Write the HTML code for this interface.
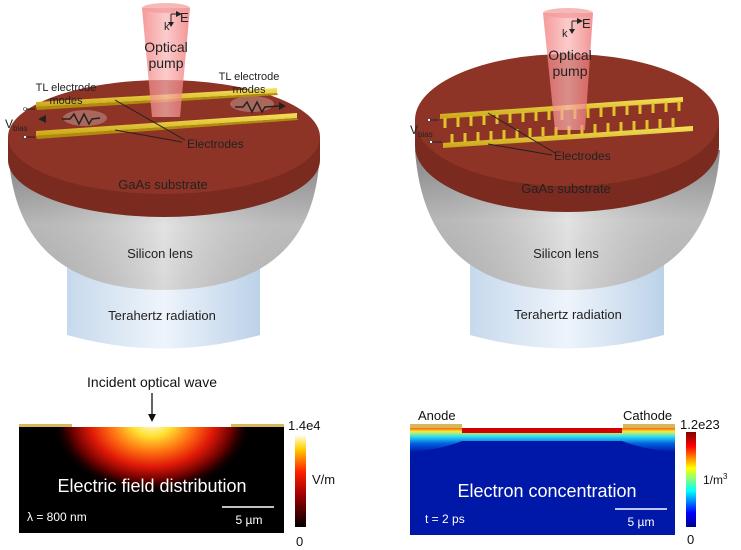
<!DOCTYPE html>
<html><head><meta charset="utf-8"><style>
html,body{margin:0;padding:0;background:#fff;}
svg{display:block;font-family:"Liberation Sans",Arial,sans-serif;}
</style></head><body>
<svg width="741" height="550" viewBox="0 0 741 550" xmlns="http://www.w3.org/2000/svg">
<defs>
<linearGradient id="lens" x1="0" y1="0" x2="0" y2="1">
<stop offset="0" stop-color="#9c9c9c"/><stop offset="0.5" stop-color="#d6d6d6"/><stop offset="1" stop-color="#c8c8c8"/></linearGradient>
<linearGradient id="lensH" x1="0" y1="0" x2="1" y2="0">
<stop offset="0" stop-color="#000" stop-opacity="0.15"/><stop offset="0.5" stop-color="#fff" stop-opacity="0.3"/><stop offset="1" stop-color="#000" stop-opacity="0.12"/></linearGradient>
<linearGradient id="thz" x1="0" y1="0" x2="1" y2="0">
<stop offset="0" stop-color="#c6d9ec"/><stop offset="0.5" stop-color="#eef4fb"/><stop offset="1" stop-color="#bcd2e8"/></linearGradient>
<linearGradient id="beam" x1="0" y1="0" x2="1" y2="0">
<stop offset="0" stop-color="#f27878" stop-opacity="0.75"/><stop offset="0.5" stop-color="#f9b5b5" stop-opacity="0.7"/><stop offset="1" stop-color="#ee7070" stop-opacity="0.75"/></linearGradient>
<linearGradient id="gold" x1="0" y1="0" x2="0" y2="1">
<stop offset="0" stop-color="#f6e25a"/><stop offset="1" stop-color="#c9a415"/></linearGradient>
<radialGradient id="field" cx="0.5" cy="0.5" r="0.5">
<stop offset="0" stop-color="#fffde8"/><stop offset="0.2" stop-color="#ffe030"/><stop offset="0.42" stop-color="#ff7010"/><stop offset="0.62" stop-color="#e01808"/><stop offset="0.82" stop-color="#600000"/><stop offset="1" stop-color="#000" stop-opacity="0"/></radialGradient>
<clipPath id="cl"><rect x="19" y="427" width="265" height="106"/></clipPath>
<linearGradient id="hot" x1="0" y1="1" x2="0" y2="0">
<stop offset="0" stop-color="#000"/><stop offset="0.35" stop-color="#a00000"/><stop offset="0.6" stop-color="#ff2000"/><stop offset="0.85" stop-color="#ffd000"/><stop offset="1" stop-color="#fffff0"/></linearGradient>
<linearGradient id="jet" x1="0" y1="1" x2="0" y2="0">
<stop offset="0" stop-color="#00008f"/><stop offset="0.15" stop-color="#0000ff"/><stop offset="0.38" stop-color="#00ffff"/><stop offset="0.5" stop-color="#80ff80"/><stop offset="0.62" stop-color="#ffff00"/><stop offset="0.85" stop-color="#ff0000"/><stop offset="1" stop-color="#800000"/></linearGradient>
<linearGradient id="conc" x1="0" y1="0" x2="0" y2="1">
<stop offset="0" stop-color="#ff6000"/><stop offset="0.15" stop-color="#f0f040"/><stop offset="0.35" stop-color="#30e0f0"/><stop offset="0.65" stop-color="#0060e0"/><stop offset="1" stop-color="#0018a8"/></linearGradient>
</defs>

<!-- LEFT 3D -->
<path d="M67 240 L67 335 Q163 362 260 335 L260 240 Z" fill="url(#thz)"/>
<path d="M9 160 Q20 290 164 290 Q308 290 319 165 Z" fill="url(#lens)"/>
<path d="M9 160 Q20 290 164 290 Q308 290 319 165 Z" fill="url(#lensH)"/>
<path d="M8 137 L8 160 A156 57 0 0 0 320 160 L320 137 Z" fill="#7a2a1e"/>
<ellipse cx="164" cy="137" rx="156" ry="57" fill="#8e3426"/>
<text x="163" y="189" font-size="13" text-anchor="middle" fill="#222">GaAs substrate</text>
<text x="160" y="258" font-size="13" text-anchor="middle" fill="#222">Silicon lens</text>
<text x="162" y="320" font-size="13" text-anchor="middle" fill="#222">Terahertz radiation</text>
<ellipse cx="85" cy="118" rx="22" ry="8" fill="#fff" opacity="0.25"/>
<ellipse cx="252" cy="104" rx="22" ry="8" fill="#fff" opacity="0.25"/>
<polygon points="36,102 277,88 277,93 36,107" fill="url(#gold)"/>
<polygon points="36,107 277,93 278,95 37,110" fill="#b08a10"/>
<polygon points="36,131 297,113 297,118 36,136" fill="url(#gold)"/>
<polygon points="36,136 297,118 298,120 37,139" fill="#b08a10"/>
<path d="M142 8 L190 8 L180 117 L152 117 Z" fill="url(#beam)"/>
<ellipse cx="166" cy="8" rx="24" ry="5" fill="#f49a9a" opacity="0.7"/>
<g stroke="#222" fill="none" stroke-width="1">
<line x1="115" y1="100" x2="185" y2="140"/>
<line x1="115" y1="130" x2="182" y2="142"/>
<line x1="26" y1="109" x2="35" y2="109"/><line x1="26" y1="137" x2="35" y2="137"/>
<path d="M62 119 L70 119 L74 114 L79 124 L84 114 L89 124 L92 119 L100 118" stroke-width="1.5"/>
<path d="M235 107 L243 107 L247 102 L252 112 L257 102 L262 112 L265 107 L280 106" stroke-width="1.5"/>
<path d="M171 14 L171 24 M171 14 L178 14"/>
</g>
<polygon points="38,119 46,115 46,123" fill="#222"/>
<polygon points="286,106 279,102 279,110" fill="#222"/>
<polygon points="182,14 176,11 176,17" fill="#222"/>
<polygon points="171,27 168,22 174,22" fill="#222"/>
<circle cx="25" cy="109" r="1.5" fill="#fff" stroke="#333" stroke-width="0.6"/>
<circle cx="25" cy="137" r="1.5" fill="#fff" stroke="#333" stroke-width="0.6"/>
<text x="164" y="30" font-size="11" fill="#222">k</text>
<text x="180" y="22" font-size="13" fill="#222">E</text>
<text x="166" y="52" font-size="14" text-anchor="middle" fill="#222">Optical</text>
<text x="166" y="68" font-size="14" text-anchor="middle" fill="#222">pump</text>
<text x="66" y="91" font-size="11" text-anchor="middle" fill="#222">TL electrode</text>
<text x="66" y="104" font-size="11" text-anchor="middle" fill="#222">modes</text>
<text x="249" y="80" font-size="11" text-anchor="middle" fill="#222">TL electrode</text>
<text x="249" y="93" font-size="11" text-anchor="middle" fill="#222">modes</text>
<text x="187" y="148" font-size="12" fill="#222">Electrodes</text>
<text x="5" y="128" font-size="12" fill="#222">V<tspan font-size="8" dy="3">bias</tspan></text>

<!-- RIGHT 3D -->
<path d="M470 235 L470 335 Q567 362 664 335 L664 235 Z" fill="url(#thz)"/>
<path d="M415 150 Q425 290 567 290 Q710 290 720 150 Z" fill="url(#lens)"/>
<path d="M415 150 Q425 290 567 290 Q710 290 720 150 Z" fill="url(#lensH)"/>
<path d="M415 120 L415 146 A152 66 0 0 0 719 146 L719 120 Z" fill="#7a2a1e"/>
<ellipse cx="567" cy="120" rx="152" ry="66" fill="#8e3426"/>
<text x="566" y="193" font-size="13" text-anchor="middle" fill="#222">GaAs substrate</text>
<text x="566" y="258" font-size="13" text-anchor="middle" fill="#222">Silicon lens</text>
<text x="568" y="319" font-size="13" text-anchor="middle" fill="#222">Terahertz radiation</text>
<g fill="url(#gold)">
<polygon points="440,114 683,97 683,102 440,119"/>
<polygon points="443,143 693,126 693,131 443,148"/>
</g>
<g stroke="#e0c22a" stroke-width="3">
<line x1="445" y1="118" x2="445" y2="128"/><line x1="458" y1="117" x2="458" y2="127"/><line x1="471" y1="116" x2="471" y2="126"/><line x1="484" y1="115" x2="484" y2="125"/><line x1="497" y1="114" x2="497" y2="124"/><line x1="510" y1="113" x2="510" y2="123"/><line x1="523" y1="112" x2="523" y2="122"/><line x1="536" y1="111" x2="536" y2="121"/><line x1="549" y1="110" x2="549" y2="120"/><line x1="562" y1="110" x2="562" y2="120"/><line x1="575" y1="109" x2="575" y2="119"/><line x1="588" y1="108" x2="588" y2="118"/><line x1="601" y1="107" x2="601" y2="117"/><line x1="614" y1="106" x2="614" y2="116"/><line x1="627" y1="105" x2="627" y2="115"/><line x1="640" y1="104" x2="640" y2="114"/><line x1="653" y1="103" x2="653" y2="113"/><line x1="666" y1="102" x2="666" y2="112"/><line x1="679" y1="101" x2="679" y2="111"/>
<line x1="452" y1="143" x2="452" y2="134"/><line x1="465" y1="142" x2="465" y2="133"/><line x1="478" y1="141" x2="478" y2="132"/><line x1="491" y1="140" x2="491" y2="131"/><line x1="504" y1="139" x2="504" y2="130"/><line x1="517" y1="138" x2="517" y2="129"/><line x1="530" y1="137" x2="530" y2="128"/><line x1="543" y1="136" x2="543" y2="127"/><line x1="556" y1="136" x2="556" y2="127"/><line x1="569" y1="135" x2="569" y2="126"/><line x1="582" y1="134" x2="582" y2="125"/><line x1="595" y1="133" x2="595" y2="124"/><line x1="608" y1="132" x2="608" y2="123"/><line x1="621" y1="131" x2="621" y2="122"/><line x1="634" y1="130" x2="634" y2="121"/><line x1="647" y1="129" x2="647" y2="120"/><line x1="660" y1="128" x2="660" y2="119"/><line x1="673" y1="127" x2="673" y2="118"/>
</g>
<path d="M543 13 L593 13 L585 130 L555 130 Z" fill="url(#beam)"/>
<ellipse cx="568" cy="13" rx="25" ry="5" fill="#f49a9a" opacity="0.7"/>
<g stroke="#222" fill="none" stroke-width="1">
<line x1="488" y1="113" x2="555" y2="153"/>
<line x1="488" y1="144" x2="552" y2="155"/>
<line x1="430" y1="120" x2="439" y2="120"/><line x1="432" y1="142" x2="442" y2="142"/>
<path d="M572 21 L572 31 M572 21 L579 21"/>
</g>
<polygon points="583,21 577,18 577,24" fill="#222"/>
<polygon points="572,34 569,29 575,29" fill="#222"/>
<circle cx="429" cy="120" r="1.5" fill="#fff" stroke="#333" stroke-width="0.6"/>
<circle cx="431" cy="142" r="1.5" fill="#fff" stroke="#333" stroke-width="0.6"/>
<text x="562" y="37" font-size="11" fill="#222">k</text>
<text x="582" y="28" font-size="13" fill="#222">E</text>
<text x="570" y="60" font-size="14" text-anchor="middle" fill="#222">Optical</text>
<text x="570" y="76" font-size="14" text-anchor="middle" fill="#222">pump</text>
<text x="554" y="160" font-size="12" fill="#222">Electrodes</text>
<text x="410" y="134" font-size="12" fill="#222">V<tspan font-size="8" dy="3">bias</tspan></text>

<!-- BOTTOM LEFT -->
<text x="152" y="387" font-size="14" text-anchor="middle" fill="#111">Incident optical wave</text>
<line x1="152" y1="393" x2="152" y2="418" stroke="#111" stroke-width="1.3"/>
<polygon points="152,422 148,414 156,414" fill="#111"/>
<rect x="19" y="427" width="265" height="106" fill="#000"/>
<g clip-path="url(#cl)">
<ellipse cx="152" cy="422" rx="100" ry="72" fill="url(#field)"/>
</g>
<rect x="19" y="424" width="53" height="3" fill="#d8b65a"/>
<rect x="231" y="424" width="53" height="3" fill="#d8b65a"/>
<text x="152" y="492" font-size="18" text-anchor="middle" fill="#fff">Electric field distribution</text>
<text x="27" y="521" font-size="12" fill="#fff">λ = 800 nm</text>
<line x1="222" y1="507" x2="274" y2="507" stroke="#fff" stroke-width="1.5"/>
<text x="249" y="524" font-size="12" text-anchor="middle" fill="#fff">5 µm</text>
<rect x="295" y="435" width="11" height="92" fill="url(#hot)"/>
<text x="288" y="430" font-size="13" fill="#111">1.4e4</text>
<text x="312" y="484" font-size="13" fill="#111">V/m</text>
<text x="296" y="546" font-size="13" fill="#111">0</text>

<!-- BOTTOM RIGHT -->
<rect x="410" y="428" width="265" height="107" fill="#0018a8"/>
<path d="M410 428 L675 428 L675 452 Q645 450 622 441 L462 441 Q440 450 410 452 Z" fill="url(#conc)"/>
<rect x="462" y="428" width="160" height="5" fill="#d00000"/>
<rect x="410" y="424" width="52" height="4" fill="#d8b65a"/>
<rect x="623" y="424" width="52" height="4" fill="#d8b65a"/>
<text x="418" y="420" font-size="13" fill="#111">Anode</text>
<text x="623" y="420" font-size="13" fill="#111">Cathode</text>
<text x="547" y="497" font-size="18" text-anchor="middle" fill="#fff">Electron concentration</text>
<text x="425" y="523" font-size="12" fill="#fff">t = 2 ps</text>
<line x1="615" y1="509" x2="667" y2="509" stroke="#fff" stroke-width="1.5"/>
<text x="641" y="526" font-size="12" text-anchor="middle" fill="#fff">5 µm</text>
<rect x="686" y="432" width="10" height="95" fill="url(#jet)"/>
<text x="680" y="429" font-size="13" fill="#111">1.2e23</text>
<text x="703" y="484" font-size="12" fill="#111">1/m<tspan font-size="8" dy="-5">3</tspan></text>
<text x="687" y="544" font-size="13" fill="#111">0</text>
</svg>
</body></html>
